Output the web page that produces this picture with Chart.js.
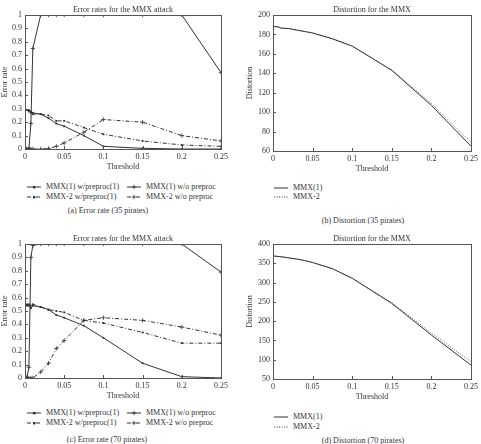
<!DOCTYPE html>
<html>
<head>
<meta charset="utf-8">
<script src="https://cdn.jsdelivr.net/npm/chart.js@4/dist/chart.umd.min.js"></script>
<style>
    body { margin: 0; background: #fff; }
    #page { position: relative; width: 481px; height: 444px; overflow: hidden; font-family: "Liberation Serif", "DejaVu Serif", serif; color: #333; }
    canvas { position: absolute; }
    .leg { position: absolute; font-size: 8px; line-height: 10px; white-space: nowrap; }
    .leg svg { vertical-align: middle; margin-right: 5px; }
    .cap { position: absolute; font-size: 8px; line-height: 10px; white-space: nowrap; transform: translateX(-50%); }
</style>
</head>
<body>
<div id="page">
    <canvas id="errA" width="240" height="172" style="left:0;top:0"></canvas>
    <canvas id="distB" width="241" height="174" style="left:240px;top:0"></canvas>
    <canvas id="errC" width="240" height="172" style="left:0;top:229px"></canvas>
    <canvas id="distD" width="241" height="173" style="left:240px;top:229px"></canvas>
</div>
<script>
// umbrales (eje x) compartidos por todas las series
const thresholds = [0, 0.0025, 0.005, 0.0075, 0.01, 0.02, 0.03, 0.04, 0.05, 0.075, 0.1, 0.15, 0.2, 0.25];

// (a) tasa de error, 35 piratas
const mmx1Pre35 = [0.3, 0.29, 0.29, 0.28, 0.27, 0.26, 0.23, 0.19, 0.17, 0.1, 0.02, 0.005, 0, 0];
const mmx1NoPre35 = [0, 0, 0, 0.19, 0.75, 1, 1, 1, 1, 1, 1, 1, 1, 0.57];
const mmx2Pre35 = [0.28, 0.29, 0.28, 0.27, 0.26, 0.26, 0.25, 0.21, 0.21, 0.16, 0.11, 0.06, 0.03, 0.02];
const mmx2NoPre35 = [0, 0, 0, 0, 0, 0, 0.003, 0.02, 0.045, 0.125, 0.22, 0.2, 0.1, 0.06];

// (c) tasa de error, 70 piratas
const mmx1Pre70 = [0.54, 0.54, 0.54, 0.52, 0.54, 0.53, 0.51, 0.47, 0.45, 0.39, 0.3, 0.11, 0.01, 0];
const mmx1NoPre70 = [0, 0.005, 0.08, 0.9, 0.99, 1, 1, 1, 1, 1, 1, 1, 1, 0.79];
const mmx2Pre70 = [0.54, 0.55, 0.55, 0.54, 0.55, 0.53, 0.51, 0.5, 0.49, 0.43, 0.41, 0.34, 0.26, 0.26];
const mmx2NoPre70 = [0, 0, 0, 0, 0, 0.045, 0.11, 0.22, 0.28, 0.43, 0.45, 0.43, 0.38, 0.32];

// (b) y (d) distorsion
const distMmx1_35 = [188, 188, 188, 187.5, 186.5, 186, 184.5, 183, 181.5, 175.5, 168, 143, 107, 65];
const distMmx2_35 = [188, 188, 188, 187.5, 186.5, 186, 184.5, 183, 181.5, 175.5, 168, 143.5, 109, 69];
const distMmx1_70 = [369, 368.5, 368, 367.5, 367, 364, 361, 357, 352, 336, 311, 246, 164, 86];
const distMmx2_70 = [369, 368.5, 368, 367.5, 367, 364, 361, 357, 352, 336, 312, 248, 169, 95];

const errLabels = ["MMX(1) w/preproc(1)", "MMX(1) w/o preproc", "MMX-2 w/preproc(1)", "MMX-2 w/o preproc"];
const distLabels = ["MMX(1)", "MMX-2"];

const FONT = '"Liberation Serif", "DejaVu Serif", serif';
const INK = "#333";
const DASHDOT = [4, 2, 1, 2];

function pts(values) {
    return values.map(function (v, i) { return { x: thresholds[i], y: v }; });
}

function fmt(v) {
    return String(+v.toFixed(2));
}

// marco completo, marcas de escala hacia dentro y titulo centrado sobre el area
const framePlugin = {
    id: "frame",
    afterDraw: function (chart, args, opts) {
        const a = chart.chartArea;
        const c = chart.ctx;
        c.save();
        c.strokeStyle = "#555";
        c.lineWidth = 1;
        c.strokeRect(Math.round(a.left) + 0.5, Math.round(a.top) + 0.5, Math.round(a.right - a.left), Math.round(a.bottom - a.top));
        const xs = chart.scales.x, ys = chart.scales.y;
        c.beginPath();
        xs.ticks.forEach(function (t) {
            const px = Math.round(xs.getPixelForValue(t.value)) + 0.5;
            c.moveTo(px, a.bottom);
            c.lineTo(px, a.bottom - 3);
        });
        ys.ticks.forEach(function (t) {
            const py = Math.round(ys.getPixelForValue(t.value)) + 0.5;
            c.moveTo(a.left, py);
            c.lineTo(a.left + 3, py);
        });
        c.stroke();
        c.fillStyle = INK;
        c.font = "8px " + FONT;
        c.textAlign = "center";
        c.textBaseline = "bottom";
        c.fillText(opts.text, (a.left + a.right) / 2, a.top - 1);
        c.restore();
    },
};

function makeChart(id, datasets, title, yTitle, yMin, yMax, yStep, yWidth, padRight, yTitlePad) {
    return new Chart(document.getElementById(id).getContext("2d"), {
        type: "line",
        data: { datasets: datasets },
        plugins: [framePlugin],
        options: {
            responsive: false,
            animation: false,
            layout: { padding: { top: 15, left: 0, right: padRight, bottom: 0 } },
            plugins: {
                legend: { display: false },
                tooltip: { enabled: false },
                frame: { text: title },
            },
            elements: {
                line: { tension: 0, borderWidth: 1, borderColor: INK, fill: false },
            },
            scales: {
                x: {
                    type: "linear",
                    min: 0,
                    max: 0.25,
                    grid: { display: false, drawTicks: false },
                    border: { display: false },
                    ticks: { stepSize: 0.05, maxRotation: 0, color: INK, font: { family: FONT, size: 8 }, padding: 3, callback: fmt },
                    title: { display: true, text: "Threshold", color: INK, font: { family: FONT, size: 8 }, padding: 0 },
                    afterFit: function (s) { s.height = 23; },
                },
                y: {
                    min: yMin,
                    max: yMax,
                    grid: { display: false, drawTicks: false },
                    border: { display: false },
                    ticks: { stepSize: yStep, color: INK, font: { family: FONT, size: 8 }, padding: 3, callback: fmt },
                    title: { display: true, text: yTitle, color: INK, font: { family: FONT, size: 8 }, padding: { top: yTitlePad, bottom: 0 } },
                    afterFit: function (s) { s.width = yWidth; },
                },
            },
        },
    });
}

function errSets(a, b, c, d) {
    return [
        { label: errLabels[0], data: pts(a), pointStyle: "rect", pointRadius: 1.3, pointBackgroundColor: INK, pointBorderColor: INK, pointBorderWidth: 0 },
        { label: errLabels[1], data: pts(b), pointStyle: "cross", pointRadius: 2.2, pointBorderColor: INK, pointBorderWidth: 0.8 },
        { label: errLabels[2], data: pts(c), borderDash: DASHDOT, pointStyle: "rect", pointRadius: 1.3, pointBackgroundColor: INK, pointBorderColor: INK, pointBorderWidth: 0 },
        { label: errLabels[3], data: pts(d), borderDash: DASHDOT, pointStyle: "cross", pointRadius: 2.2, pointBorderColor: INK, pointBorderWidth: 0.8 },
    ];
}

function distSets(a, b) {
    return [
        { label: distLabels[0], data: pts(a), pointRadius: 0 },
        { label: distLabels[1], data: pts(b), pointRadius: 0, borderDash: [1, 1.5], borderColor: "#666" },
    ];
}

makeChart("errA", errSets(mmx1Pre35, mmx1NoPre35, mmx2Pre35, mmx2NoPre35), "Error rates for the MMX attack", "Error rate", 0, 1, 0.1, 25, 19, 0);
makeChart("errC", errSets(mmx1Pre70, mmx1NoPre70, mmx2Pre70, mmx2NoPre70), "Error rates for the MMX attack", "Error rate", 0, 1, 0.1, 25, 19, 0);
makeChart("distB", distSets(distMmx1_35, distMmx2_35), "Distortion for the MMX", "Distortion", 60, 200, 20, 33, 10, 5);
makeChart("distD", distSets(distMmx1_70, distMmx2_70), "Distortion for the MMX", "Distortion", 50, 400, 50, 33, 10, 5);

// leyendas y pies de figura en HTML
const page = document.getElementById("page");

function sample(dash, marker) {
    let s = '<svg width="14" height="6"><line x1="0" y1="3" x2="14" y2="3" stroke="' + INK + '" stroke-width="1"' + (dash ? ' stroke-dasharray="' + dash + '"' : "") + "/>";
    if (marker === "rect") s += '<rect x="6" y="2" width="2.4" height="2.4" fill="' + INK + '"/>';
    if (marker === "cross") s += '<path d="M7 0.8V5.2M4.8 3H9.2" stroke="' + INK + '" stroke-width="0.8"/>';
    return s + "</svg>";
}

function addLeg(x, y, html) {
    const d = document.createElement("div");
    d.className = "leg";
    d.style.left = x + "px";
    d.style.top = y + "px";
    d.innerHTML = html;
    page.appendChild(d);
}

function addCap(x, y, text) {
    const d = document.createElement("div");
    d.className = "cap";
    d.style.left = x + "px";
    d.style.top = y + "px";
    d.textContent = text;
    page.appendChild(d);
}

function errLegend(y) {
    addLeg(27, y, sample(null, "rect") + errLabels[0]);
    addLeg(127, y, sample(null, "cross") + errLabels[1]);
    addLeg(27, y + 10, sample("4,2,1,2", "rect") + errLabels[2]);
    addLeg(127, y + 10, sample("4,2,1,2", "cross") + errLabels[3]);
}

function distLegend(y, gap) {
    addLeg(274, y, sample(null, null) + distLabels[0]);
    addLeg(274, y + gap, sample("1,1.5", null) + distLabels[1]);
}

errLegend(182);
distLegend(183, 9);
errLegend(408);
distLegend(412, 10);

addCap(108, 206, "(a)  Error rate (35 pirates)");
addCap(363, 216, "(b)  Distortion (35 pirates)");
addCap(107, 435, "(c)  Error rate (70 pirates)");
addCap(363, 436, "(d)  Distortion (70 pirates)");
</script>
</body>
</html>
